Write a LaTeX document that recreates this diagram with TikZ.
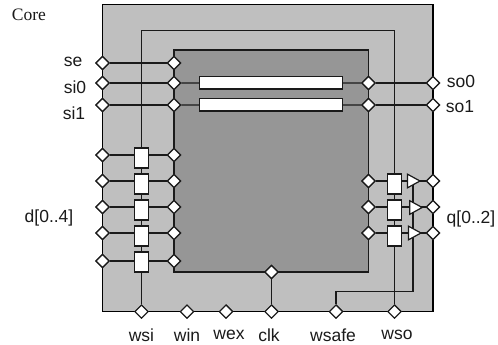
\documentclass[tikz,border=0pt]{standalone}
\usepackage{fontspec}
\setmainfont{Liberation Sans}
\newfontfamily\serifcore{Liberation Serif}
\usetikzlibrary{shapes.geometric}
\definecolor{outerg}{HTML}{BFBFBF}
\definecolor{innerg}{HTML}{969696}
\definecolor{wirec}{HTML}{1A1A1A}
\tikzset{
  wire/.style={draw=wirec,line width=1.3pt},
  port/.style={diamond,draw=wirec,fill=white,line width=1.2pt,minimum width=13.5pt,minimum height=13.5pt,inner sep=0pt},
  cell/.style={rectangle,draw=wirec,fill=white,line width=1.2pt,minimum width=13.5pt,minimum height=20pt,inner sep=0pt},
  bar/.style={rectangle,draw=wirec,fill=white,line width=1.2pt,minimum width=143pt,minimum height=12.5pt,inner sep=0pt},
  tripath/.style={draw=wirec,fill=white,line width=1.2pt,line join=miter},
  lab/.style={font=\fontsize{17.5}{19}\selectfont,inner sep=0pt,text=wirec},
}
\begin{document}
\begin{tikzpicture}[x=1pt,y=-1pt]
\useasboundingbox (0,0) rectangle (498,345);
% regions
\draw[fill=outerg,draw=black,line width=1.2pt] (102.5,4.5) rectangle (433,311.6);
\draw[fill=innerg,draw=wirec,line width=1.2pt] (174,50) rectangle (368.5,272);
% coordinates of wire corners
\coordinate (wtl) at (141.5,30.5);
\coordinate (wtr) at (394.5,30.5);
\coordinate (sa) at (413,181);
\coordinate (sb) at (413,291.5);
\coordinate (sc) at (336,291.5);
\coordinate (ta) at (407.5,181);
\coordinate (tb) at (409.7,207.5);
\coordinate (tc) at (408.5,233);
% nodes
\foreach \n/\y in {se/63,si0/83,si1/105,da/155,db/181,dc/207,dd/233,de/261}{
  \node[port] (L\n) at (102.5,\y) {};
  \node[port] (I\n) at (174,\y) {};
}
\foreach \n/\y in {qa/181,qb/207,qc/233,so0/83,so1/105}{
  \node[port] (R\n) at (433,\y) {};
  \node[port] (J\n) at (368.5,\y) {};
}
\node[port] (wsi) at (141.5,311.6) {};
\node[port] (win) at (187,311.6) {};
\node[port] (wex) at (226,311.6) {};
\node[port] (clk) at (271.5,311.6) {};
\node[port] (clki) at (271.5,272) {};
\node[port] (wsafe) at (336,311.6) {};
\node[port] (wso) at (394.5,311.6) {};
% wires
\draw[wire] (Lse) -- (Ise);
\draw[wire] (Lsi0) -- (Isi0);
\draw[wire] (Lsi1) -- (Isi1);
\foreach \n in {da,db,dc,dd,de}{\draw[wire] (L\n) -- (I\n);}
\draw[wire] (Jso0) -- (Rso0);
\draw[wire] (Jso1) -- (Rso1);
\foreach \n in {qa,qb,qc}{\draw[wire] (J\n) -- (R\n);}
\draw[wire] (clki) -- (clk);
\draw[wire] (wsi) -- (wtl) -- (wtr) -- (wso);
\draw[wire] (sa) -- (sb) -- (sc) -- (wsafe);
% bars
\node[bar] (bara) at (271,82.7) {};
\node[bar] (barb) at (271,104.7) {};
\draw[wire] (Isi0) -- (bara);
\draw[wire] (Isi1) -- (barb);
\draw[wire] (bara) -- (Jso0);
\draw[wire] (barb) -- (Jso1);
% cells
\node[cell] (ca) at (141.5,158) {};
\node[cell] (cb) at (141.5,184) {};
\node[cell] (cc) at (141.5,210) {};
\node[cell] (cd) at (141.5,236) {};
\node[cell] (ce) at (141.5,262) {};
\node[cell] (oa) at (394.5,184) {};
\node[cell] (ob) at (394.5,210) {};
\node[cell] (oc) at (394.5,236) {};
% drivers
\foreach \t in {ta,tb,tc}{
  \draw[tripath] (\t) ++(0,-6.8) -- ++(12.5,6.8) -- ++(-12.5,6.8) -- cycle;
}
% redraw ports over wires
\foreach \n in {Lse,Ise,Lsi0,Isi0,Lsi1,Isi1,Lda,Ida,Ldb,Idb,Ldc,Idc,Ldd,Idd,Lde,Ide,
  Rqa,Jqa,Rqb,Jqb,Rqc,Jqc,Rso0,Jso0,Rso1,Jso1,wsi,win,wex,clk,clki,wsafe,wso}{
  \node[port] at (\n) {};
}
% labels
\node[lab,font=\serifcore\fontsize{17.5}{19}\selectfont] (core) at (29,15) {Core};
\node[lab] (lse) at (73,61.5) {se};
\node[lab] (lsi0) at (75,87) {si0};
\node[lab] (lsi1) at (74,113) {si1};
\node[lab] (ld) at (49,218) {d[0..4]};
\node[lab] (lso0) at (461,81.5) {so0};
\node[lab] (lso1) at (460,107) {so1};
\node[lab] (lq) at (471,219) {q[0..2]};
\node[lab] (lwsi) at (141.5,335) {wsi};
\node[lab] (lwin) at (187,335) {win};
\node[lab] (lwex) at (229,335) {wex};
\node[lab] (lclk) at (269,335) {clk};
\node[lab] (lwsafe) at (333,335) {wsafe};
\node[lab] (lwso) at (397,335) {wso};
\end{tikzpicture}
\end{document}
